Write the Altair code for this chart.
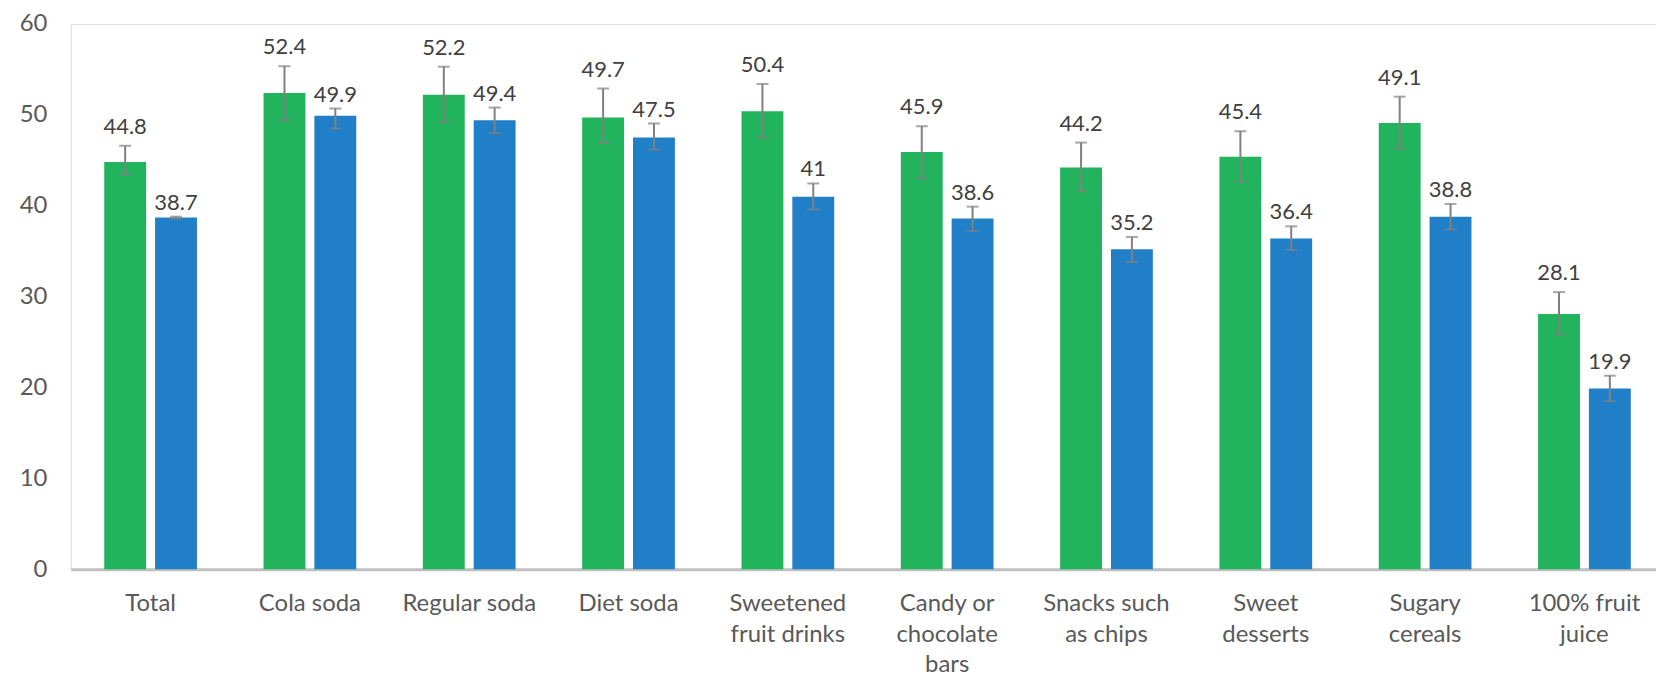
import altair as alt
import pandas as pd

categories = ["Total", "Cola soda", "Regular soda", "Diet soda",
              "Sweetened\nfruit drinks", "Candy or\nchocolate\nbars",
              "Snacks such\nas chips", "Sweet\ndesserts", "Sugary\ncereals",
              "100% fruit\njuice"]
series_names = ["Series 1", "Series 2"]
series_colors = ["#22b45c", "#217fc8"]

green_vals = [44.8, 52.4, 52.2, 49.7, 50.4, 45.9, 44.2, 45.4, 49.1, 28.1]
blue_vals = [38.7, 49.9, 49.4, 47.5, 41, 38.6, 35.2, 36.4, 38.8, 19.9]

green_err_hi = [1.8, 2.95, 3.1, 3.2, 3.0, 2.85, 2.75, 2.8, 2.9, 2.4]
green_err_lo = [1.4, 3.0, 3.0, 2.8, 2.9, 2.9, 2.6, 2.75, 2.8, 2.25]
blue_err_hi = [0.1, 0.8, 1.4, 1.55, 1.45, 1.3, 1.37, 1.34, 1.4, 1.4]
blue_err_lo = [0.1, 1.4, 1.4, 1.3, 1.4, 1.37, 1.38, 1.27, 1.4, 1.4]

y_ticks = [0, 10, 20, 30, 40, 50, 60]

rows = []
for i, c in enumerate(categories):
    for s, vals, lo, hi in [(series_names[0], green_vals, green_err_lo, green_err_hi),
                            (series_names[1], blue_vals, blue_err_lo, blue_err_hi)]:
        v = vals[i]
        rows.append(dict(cat=c, series=s, value=v, lo=v - lo[i], hi=v + hi[i],
                         label=f"{v:g}"))
df = pd.DataFrame(rows)

FONT = "Lato"

x_enc = alt.X("cat:N", sort=categories, title=None,
              scale=alt.Scale(paddingInner=0.418, paddingOuter=0.184, align=0.57),
              axis=alt.Axis(labelAngle=0, labelExpr="split(datum.label, '\\n')",
                            labelFont=FONT, labelFontSize=24, labelColor="#595959",
                            labelBaseline="top", labelPadding=22, labelLineHeight=31,
                            domainColor="#bfbfbf", domainWidth=3, ticks=False,
                            labelLimit=300))
xo_enc = alt.XOffset("series:N", sort=series_names,
                     scale=alt.Scale(paddingInner=0.176, paddingOuter=0))

base = alt.Chart(df).encode(x=x_enc, xOffset=xo_enc)

yscale = alt.Scale(domain=[0, 60], nice=False)

bars = base.mark_bar().encode(
    y=alt.Y("value:Q", scale=yscale, title=None,
            axis=alt.Axis(values=y_ticks, domain=False, ticks=False, grid=False,
                          labelFont=FONT, labelFontSize=24, labelColor="#595959",
                          labelPadding=24)),
    color=alt.Color("series:N", scale=alt.Scale(domain=series_names, range=series_colors),
                    legend=None),
)

err_color = "#808080"
rules = base.mark_rule(color=err_color, strokeWidth=2).encode(
    y=alt.Y("lo:Q", scale=yscale), y2="hi:Q")
cap_hi = base.mark_tick(color=err_color, thickness=2, size=12).encode(
    y=alt.Y("hi:Q", scale=yscale))
cap_lo = base.mark_tick(color=err_color, thickness=2, size=12).encode(
    y=alt.Y("lo:Q", scale=yscale))

lab_g = base.transform_filter(alt.datum.series == series_names[0]).mark_text(
    font=FONT, fontSize=22, color="#404040", baseline="middle", dy=-19).encode(
    y=alt.Y("hi:Q", scale=yscale), text="label:N")
lab_b = base.transform_filter(alt.datum.series == series_names[1]).mark_text(
    font=FONT, fontSize=22, color="#404040", baseline="middle", dy=-14).encode(
    y=alt.Y("hi:Q", scale=yscale), text="label:N")

chart = alt.layer(bars, rules, cap_hi, cap_lo, lab_g, lab_b).properties(
    width=1590, height=547,
    autosize=alt.AutoSizeParams(type="none"),
    padding={"left": 63, "top": 15, "right": 0, "bottom": 106},
).configure_view(stroke=None).configure(background="white")

chart.save("out.html", embed_options={"renderer": "svg", "actions": False})
